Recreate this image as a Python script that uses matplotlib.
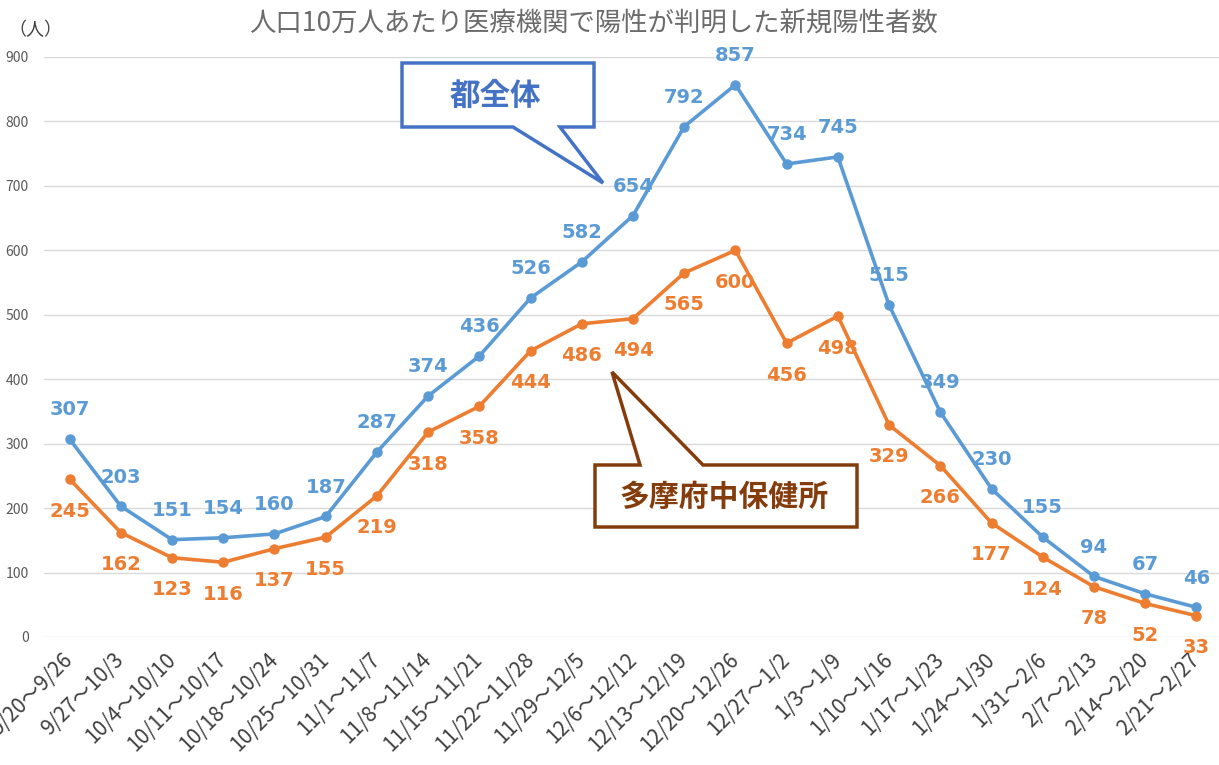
import matplotlib.pyplot as plt
from matplotlib.patches import Polygon

plt.rcParams['font.family'] = ['Noto Sans CJK JP', 'DejaVu Sans']

weeks = ['9/20～9/26', '9/27～10/3', '10/4～10/10', '10/11～10/17', '10/18～10/24',
         '10/25～10/31', '11/1～11/7', '11/8～11/14', '11/15～11/21', '11/22～11/28',
         '11/29～12/5', '12/6～12/12', '12/13～12/19', '12/20～12/26', '12/27～1/2',
         '1/3～1/9', '1/10～1/16', '1/17～1/23', '1/24～1/30', '1/31～2/6',
         '2/7～2/13', '2/14～2/20', '2/21～2/27']
tokyo = [307, 203, 151, 154, 160, 187, 287, 374, 436, 526, 582, 654,
         792, 857, 734, 745, 515, 349, 230, 155, 94, 67, 46]
tama_fuchu = [245, 162, 123, 116, 137, 155, 219, 318, 358, 444, 486, 494,
              565, 600, 456, 498, 329, 266, 177, 124, 78, 52, 33]
yticks = [0, 100, 200, 300, 400, 500, 600, 700, 800, 900]

W, H = 1219, 765
blue = '#5B9BD5'
orange = '#ED7D31'

fig = plt.figure(figsize=(W / 100, H / 100), dpi=100)
ax = fig.add_axes([44 / W, (H - 637) / H, (1222 - 44) / W, (637 - 57) / H])

x = list(range(len(weeks)))
ax.plot(x, tokyo, color=blue, lw=2.6, marker='o', ms=6.5, zorder=3)
ax.plot(x, tama_fuchu, color=orange, lw=2.6, marker='o', ms=6.5, zorder=3)

for i, v in enumerate(tokyo):
    ax.annotate(str(v), (i, v), xytext=(0, 21), textcoords='offset points',
                ha='center', va='center', color=blue, fontsize=14,
                fontweight='bold', family='DejaVu Sans')
for i, v in enumerate(tama_fuchu):
    ax.annotate(str(v), (i, v), xytext=(0, -23), textcoords='offset points',
                ha='center', va='center', color=orange, fontsize=14,
                fontweight='bold', family='DejaVu Sans')

ax.set_xlim(-0.5, len(weeks) - 0.5)
ax.set_ylim(0, 900)
ax.set_yticks(yticks)
ax.set_yticklabels([str(t) for t in yticks], fontsize=10, color='#595959')
ax.set_xticks(x)
ax.set_xticklabels(weeks, rotation=45, ha='right', va='center',
                   rotation_mode='anchor', fontsize=15, color='#404040')
ax.tick_params(axis='both', length=0)
ax.tick_params(axis='y', pad=11)
ax.tick_params(axis='x', pad=14)
ax.grid(axis='y', color='#D9D9D9', lw=1)
ax.set_axisbelow(True)
for s in ax.spines.values():
    s.set_visible(False)

fig.text(594 / W, 1 - 23 / H, '人口10万人あたり医療機関で陽性が判明した新規陽性者数',
         ha='center', va='center', fontsize=19, color='#6b6b6b')
fig.text(8 / W, 1 - 30 / H, '（人）', ha='left', va='center', fontsize=13, color='#404040')


def callout(pts, text, tx, ty, color, fs):
    verts = [(px / W, 1 - py / H) for px, py in pts]
    fig.patches.append(Polygon(verts, closed=True, facecolor='white', edgecolor=color,
                               lw=2.5, transform=fig.transFigure, zorder=5))
    fig.text(tx / W, 1 - ty / H, text, ha='center', va='center', fontsize=fs,
             fontweight='bold', color=color, zorder=6)


callout([(402, 63), (594, 63), (594, 127), (560, 127), (603, 183), (513, 127), (402, 127)],
        '都全体', 495, 96, '#4472C4', 22)
callout([(595, 465), (640, 465), (612, 372), (703, 465), (857, 465), (857, 527), (595, 527)],
        '多摩府中保健所', 724, 497, '#843C0C', 21.5)

fig.savefig('out.png', dpi=100)
